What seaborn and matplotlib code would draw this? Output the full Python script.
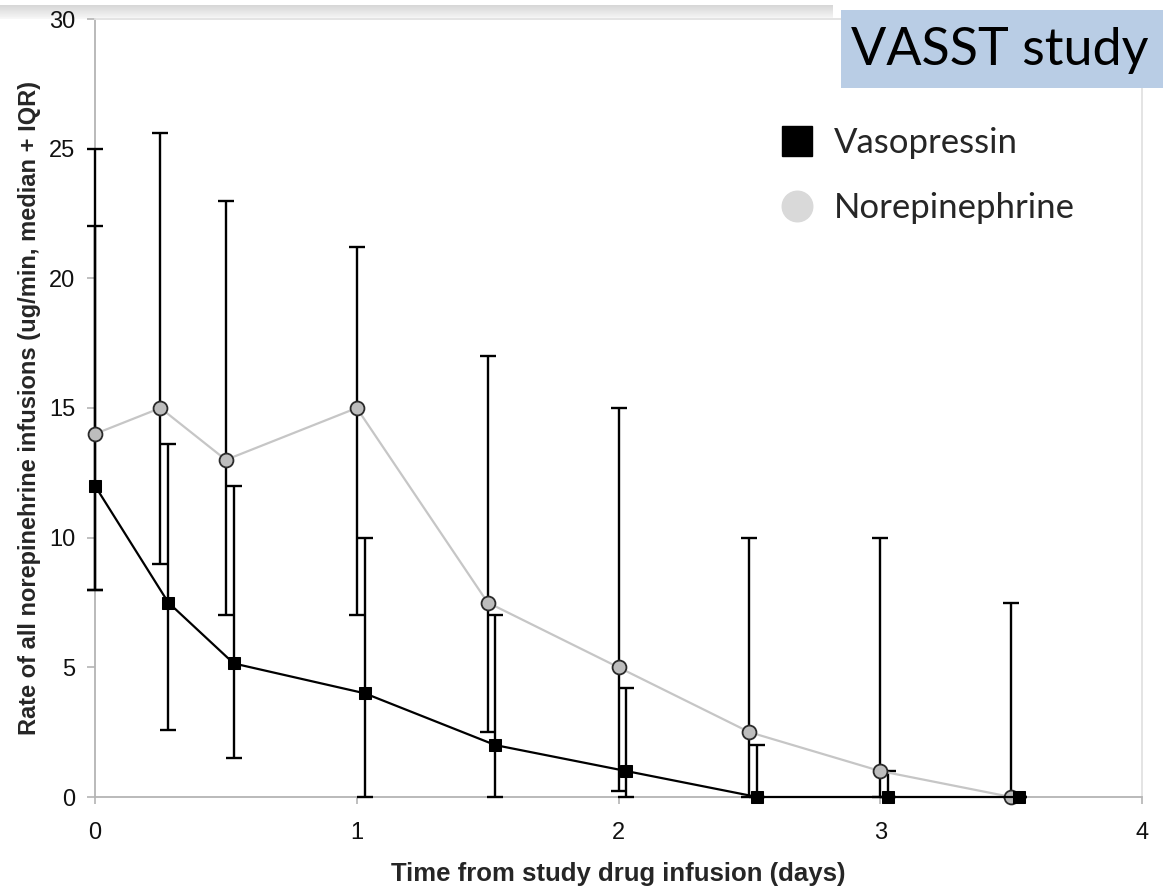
import numpy as np
import pandas as pd
import matplotlib
matplotlib.use("Agg")
import matplotlib.pyplot as plt
from matplotlib.lines import Line2D
from matplotlib.patches import Rectangle
import seaborn as sns

# Median and interquartile range of norepinephrine dose by day
nor_days = [0, 0.25, 0.5, 1, 1.5, 2, 2.5, 3, 3.5]
nor_median = [14, 15, 13, 15, 7.5, 5, 2.5, 1, 0]
nor_q1 = [8, 9, 7, 7, 2.5, 0.25, 0, 0, 0]
nor_q3 = [25, 25.6, 23, 21.2, 17, 15, 10, 10, 7.5]

vaso_days = [0, 0.28, 0.53, 1.03, 1.53, 2.03, 2.53, 3.03, 3.53]
vaso_median = [12, 7.5, 5.15, 4, 2, 1, 0, 0, 0]
vaso_q1 = [8, 2.6, 1.5, 0, 0, 0, 0, 0, 0]
vaso_q3 = [22, 13.6, 12, 10, 7, 4.2, 2, 1, 0]

groups = ["Vasopressin", "Norepinephrine"]
x_ticks = [0, 1, 2, 3, 4]
y_ticks = [0, 5, 10, 15, 20, 25, 30]

sns.set_style("white")
plt.rcParams["font.family"] = ["Liberation Sans", "DejaVu Sans"]
slide_font = ["Lato", "DejaVu Sans"]

df = pd.concat([
    pd.DataFrame({"day": vaso_days, "rate": vaso_median, "group": groups[0]}),
    pd.DataFrame({"day": nor_days, "rate": nor_median, "group": groups[1]}),
], ignore_index=True)

fig = plt.figure(figsize=(11.63, 8.89), dpi=100)

# Shaded strip along the top edge (behind the chart)
strip = fig.add_axes([0, 1 - 19 / 889, 833 / 1163, 14 / 889])
strip.set_zorder(-1)
grad = np.linspace(0.84, 0.97, 32).reshape(-1, 1)
strip.imshow(np.repeat(grad, 2, axis=1), cmap="gray", vmin=0, vmax=1,
             aspect="auto", extent=[0, 1, 0, 1], origin="upper")
strip.set_axis_off()

ax = fig.add_axes([95 / 1163, 1 - 797 / 889, (1142 - 95) / 1163, (797 - 19) / 889])
ax.patch.set_alpha(0)

axis_grey = "#b4b4b4"

# IQR whiskers (above the spines, below the markers)
ax.errorbar(nor_days, nor_median,
            yerr=[np.subtract(nor_median, nor_q1), np.subtract(nor_q3, nor_median)],
            fmt="none", ecolor="black", elinewidth=1.7, capsize=6, capthick=1.7,
            zorder=3, clip_on=False)
ax.errorbar(vaso_days, vaso_median,
            yerr=[np.subtract(vaso_median, vaso_q1), np.subtract(vaso_q3, vaso_median)],
            fmt="none", ecolor="black", elinewidth=1.7, capsize=6, capthick=1.7,
            zorder=3, clip_on=False)

sns.lineplot(data=df[df.group == groups[1]], x="day", y="rate", ax=ax,
             color="#c6c6c6", linewidth=1.6, marker="o", markersize=10,
             markerfacecolor="#bdbdbd", markeredgecolor="#2a2a2a",
             markeredgewidth=1.3, legend=False, zorder=4, clip_on=False)
sns.lineplot(data=df[df.group == groups[0]], x="day", y="rate", ax=ax,
             color="black", linewidth=1.6, marker="s", markersize=9,
             markerfacecolor="black", markeredgecolor="black",
             legend=False, zorder=5, clip_on=False)

ax.set_xlim(0, 4)
ax.set_ylim(0, 30)
ax.set_xticks(x_ticks)
ax.set_yticks(y_ticks)
ax.set_xticklabels([str(t) for t in x_ticks])
ax.set_yticklabels([str(t) for t in y_ticks])
for s in ax.spines.values():
    s.set_color(axis_grey)
    s.set_linewidth(1.3)
ax.spines["top"].set_color("#e2e2e2")
ax.spines["right"].set_color("#e2e2e2")
ax.tick_params(axis="both", direction="out", color=axis_grey, width=1.2,
               labelsize=17, labelcolor="#111111")
ax.tick_params(axis="y", length=6, pad=8, left=True)
ax.tick_params(axis="x", length=5, pad=13, bottom=True)

ax.set_xlabel("Time from study drug infusion (days)", fontsize=18.5,
              fontweight="bold", labelpad=13)
ax.set_ylabel("Rate of all norepinehrine infusions (ug/min, median + IQR)",
              fontsize=17, fontweight="bold", labelpad=6)

# Legend
handles = [
    Line2D([], [], linestyle="none", marker="s", markersize=21,
           markerfacecolor="black", markeredgecolor="black"),
    Line2D([], [], linestyle="none", marker="o", markersize=22,
           markerfacecolor="#d9d9d9", markeredgecolor="#d9d9d9"),
]
fig.legend(handles, groups, loc="upper left",
           bbox_to_anchor=(766 / 1163, 1 - 113 / 889), frameon=False,
           prop={"family": slide_font, "size": 25},
           handletextpad=0.55, labelspacing=0.95, borderaxespad=0,
           handlelength=1.0)

# Header box
fig.patches.append(Rectangle((841 / 1163, 1 - 88 / 889), (1163 - 841) / 1163,
                             78 / 889, transform=fig.transFigure,
                             facecolor="#b9cde5", edgecolor="none", zorder=5))
fig.text(851 / 1163, 1 - 50 / 889, "VASST study", ha="left", va="center",
         fontsize=37.5, color="black", zorder=6, family=slide_font)

fig.savefig("out.png", dpi=100)
